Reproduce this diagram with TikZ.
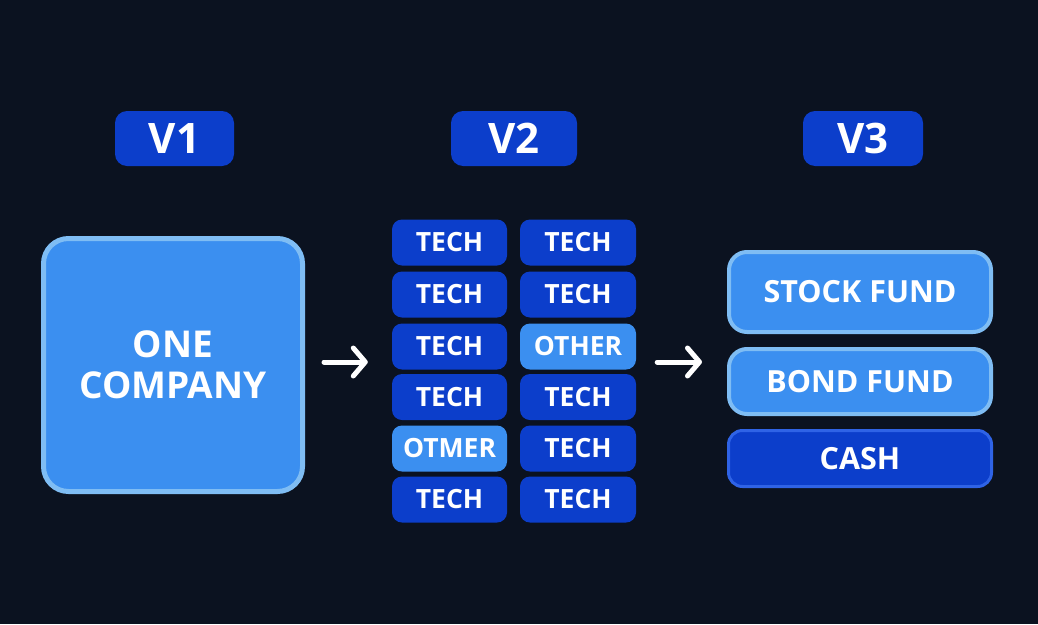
\documentclass[tikz,border=0pt]{standalone}
\usepackage{fontspec}
\setmainfont{Open Sans}
\usetikzlibrary{arrows.meta}
\definecolor{bg}{HTML}{0B1220}
\definecolor{royal}{HTML}{0C3ECB}
\definecolor{sky}{HTML}{3B8FF0}
\definecolor{skyedge}{HTML}{7FBDF4}
\definecolor{royaledge}{HTML}{2F63E6}
\tikzset{
  x=1pt,y=1pt,
  lab/.style={text=white,font=\bfseries\fontsize{#1}{#1}\selectfont},
  badge/.style={rectangle,rounded corners=12pt,fill=royal,minimum height=55pt,inner sep=0pt,lab=42},
  tile/.style={rectangle,rounded corners=10pt,fill=royal,minimum height=46pt,inner sep=0pt,lab=26.5},
  tilelt/.style={tile,fill=sky},
  fund/.style={rectangle,rounded corners=18pt,fill=sky,draw=skyedge,line width=4pt,minimum width=262pt,inner sep=0pt,lab=30.5},
  cashbox/.style={rectangle,rounded corners=14pt,fill=royal,draw=royaledge,line width=3pt,minimum width=263pt,minimum height=56pt,inner sep=0pt,lab=30.5},
  flow/.style={draw=white,line width=5pt,line cap=round,-{Straight Barb[length=12pt,width=28pt,line cap=round,line join=round]}}
}
\begin{document}
\begin{tikzpicture}
\fill[bg] (0,0) rectangle (1038,-624);
\useasboundingbox (0,0) rectangle (1038,-624);
% badges
\node[badge,minimum width=119pt] (v1) at (174.5,-138.5) {V1};
\node[badge,minimum width=126pt] (v2) at (514,-138.5) {V2};
\node[badge,minimum width=120pt] (v3) at (863,-138.5) {V3};
% one company
\node[rectangle,rounded corners=25pt,fill=sky,draw=skyedge,line width=5pt,minimum width=259pt,minimum height=253pt,inner sep=0pt,align=center,lab=37] (one) at (173,-365) {ONE\\[4pt]COMPANY};
% grid
\node[tile,minimum width=115pt] (a1) at (449.5,-242.5) {TECH};
\node[tile,minimum width=115pt] (a2) at (449.5,-294.5) {TECH};
\node[tile,minimum width=115pt] (a3) at (449.5,-346.5) {TECH};
\node[tile,minimum width=115pt] (a4) at (449.5,-397) {TECH};
\node[tilelt,minimum width=115pt] (a5) at (449.5,-448.5) {OTMER};
\node[tile,minimum width=115pt] (a6) at (449.5,-499.5) {TECH};
\node[tile,minimum width=116pt] (b1) at (578,-242.5) {TECH};
\node[tile,minimum width=116pt] (b2) at (578,-294.5) {TECH};
\node[tilelt,minimum width=116pt] (b3) at (578,-346.5) {OTHER};
\node[tile,minimum width=116pt] (b4) at (578,-397) {TECH};
\node[tile,minimum width=116pt] (b5) at (578,-448.5) {TECH};
\node[tile,minimum width=116pt] (b6) at (578,-499.5) {TECH};
% funds
\node[fund,minimum height=80pt] (stock) at (860,-292) {STOCK FUND};
\node[fund,minimum height=65pt] (bond) at (860,-381.5) {BOND FUND};
\node[cashbox] (cash) at (860,-458.5) {CASH};
% arrows
\coordinate (ay) at (0,-362);
\draw[flow,shorten <=19pt,shorten >=24pt] (one.east |- ay) -- (a3.west |- ay);
\draw[flow,shorten <=21pt,shorten >=25pt] (b3.east |- ay) -- (bond.west |- ay);
\end{tikzpicture}
\end{document}
